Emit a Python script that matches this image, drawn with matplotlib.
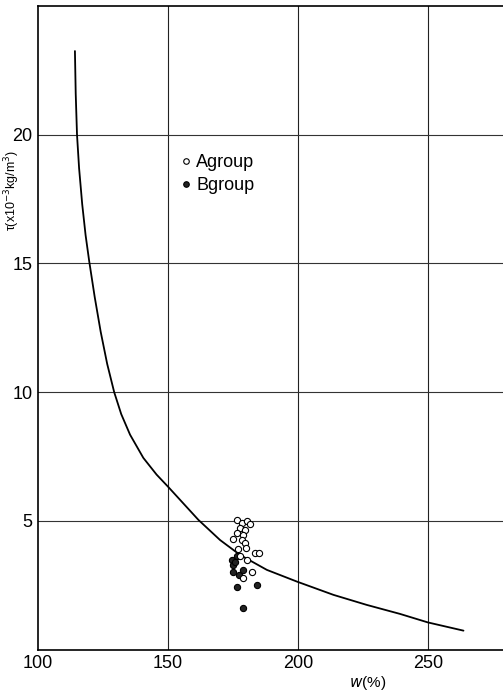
import matplotlib
matplotlib.use("Agg")
import matplotlib.pyplot as plt
from matplotlib.lines import Line2D

# ---- data ----
curve_w = [114.2, 114.5, 115.0, 115.8, 117.0, 118.3, 119.7, 121.8, 124.1, 126.6,
           129.3, 132.0, 135.4, 140.5, 145.6, 150.1, 155.9, 161.7, 170.0, 177.7,
           188.0, 199.7, 213.6, 226.4, 239.2, 249.9, 263.6]
curve_tau = [23.25, 21.6, 20.0, 18.7, 17.3, 16.1, 15.08, 13.7, 12.35, 11.1,
             10.0, 9.15, 8.35, 7.45, 6.8, 6.32, 5.68, 5.04, 4.26, 3.68,
             3.10, 2.64, 2.13, 1.74, 1.39, 1.06, 0.74]

a_w = [176.7, 178.3, 180.2, 181.5, 177.7, 179.6, 176.4, 178.7, 174.9, 178.3,
       179.6, 180.0, 183.5, 185.1, 177.7, 180.2, 182.2, 179.0, 177.0]
a_tau = [5.02, 4.94, 4.98, 4.89, 4.72, 4.65, 4.52, 4.46, 4.29, 4.26,
         4.13, 3.94, 3.75, 3.75, 3.62, 3.49, 3.03, 2.77, 3.90]

b_w = [174.5, 175.1, 176.4, 174.9, 177.4, 178.7, 176.4, 184.1, 179.0, 175.8]
b_tau = [3.49, 3.29, 3.62, 3.03, 2.90, 3.10, 2.45, 2.52, 1.63, 3.42]

x_ticks = [100, 150, 200, 250]
y_ticks = [5, 10, 15, 20]
legend_labels = ["Agroup", "Bgroup"]

FONT = ['Liberation Sans Narrow', 'Liberation Sans', 'DejaVu Sans']
plt.rcParams['font.family'] = FONT

fig = plt.figure(figsize=(5.03, 6.94), dpi=100)
W, H = 503, 694
left, right, bottom, top = 38, 503, 649.7, 6
ax = fig.add_axes([left / W, 1 - bottom / H, (right - left) / W, (bottom - top) / H])

ax.set_xlim(100, 278.8)
ax.set_ylim(0, 25)

for x in x_ticks[1:]:
    ax.axvline(x, color='#222222', lw=0.8, zorder=1)
for y in y_ticks:
    ax.axhline(y, color='#333333', lw=0.8, zorder=1)

ax.plot(curve_w, curve_tau, color='black', lw=1.3, zorder=3,
        solid_joinstyle='round', solid_capstyle='round')

ax.scatter(b_w, b_tau, s=20, facecolor='#222222', edgecolor='black', linewidths=0.8, zorder=4)
ax.scatter(a_w, a_tau, s=20, facecolor='white', edgecolor='black', linewidths=0.8, zorder=5)

ax.set_xticks(x_ticks)
ax.set_yticks(y_ticks)
ax.tick_params(length=0, labelsize=13, pad=4)
ax.spines['right'].set_visible(False)
for s in ['left', 'bottom', 'top']:
    ax.spines[s].set_linewidth(1.2)
    ax.spines[s].set_color('black')

handles = [
    Line2D([], [], marker='o', ls='none', markersize=4, markerfacecolor='white',
           markeredgecolor='black', markeredgewidth=0.8),
    Line2D([], [], marker='o', ls='none', markersize=4, markerfacecolor='#222222',
           markeredgecolor='black', markeredgewidth=0.8),
]
ax.legend(handles, legend_labels, loc='upper left', frameon=False,
          bbox_to_anchor=((172 - left) / (right - left), 1 - (145 - top) / (bottom - top)),
          handlelength=0.6, handletextpad=0.25, labelspacing=0.35, borderpad=0,
          fontsize=13)

fig.text(12 / W, 1 - 190 / H, r"τ(x10$^{-3}$kg/m$^{3}$)", rotation=90,
         ha='center', va='center', fontsize=9)
fig.text(368 / W, 1 - 683 / H, r"$w$(%)", ha='center', va='center', fontsize=11)

fig.savefig("out.png", dpi=100)
